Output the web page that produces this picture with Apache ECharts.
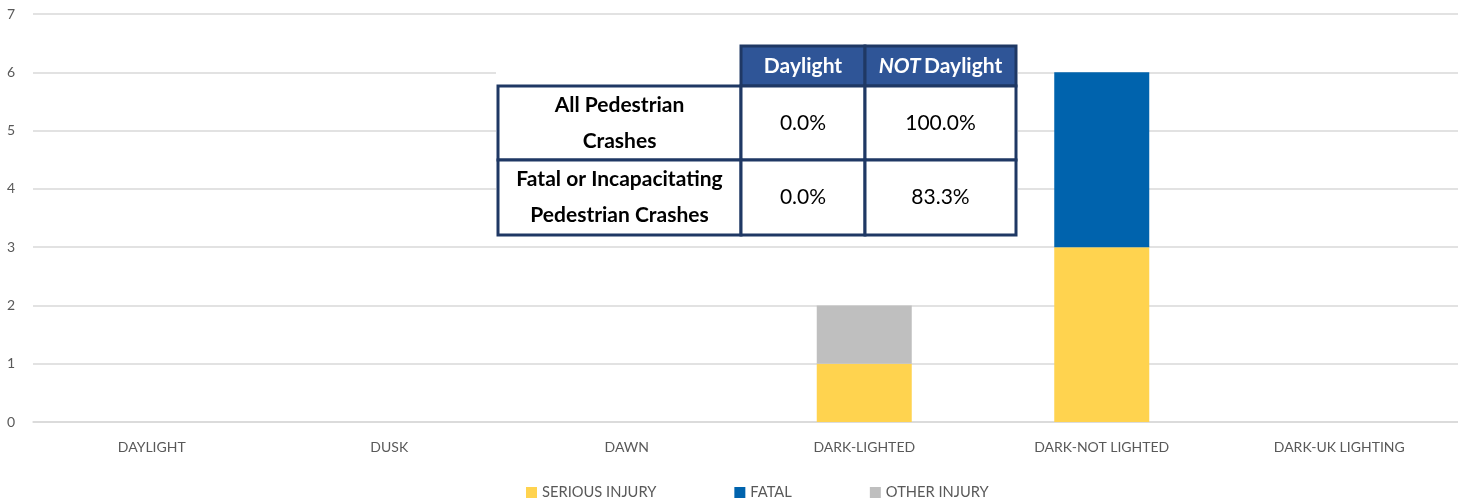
<!DOCTYPE html>
<html><head><meta charset="utf-8">
<script src="https://cdn.jsdelivr.net/npm/echarts@6/dist/echarts.min.js"></script>
<style>html,body{margin:0;padding:0;background:#fff}#c{width:1458px;height:503px}</style>
</head><body><div id="c"></div>
<script>
const categories = ['DAYLIGHT','DUSK','DAWN','DARK-LIGHTED','DARK-NOT LIGHTED','DARK-UK LIGHTING'];
const seriousInjury = [0,0,0,1,3,0];
const fatal = [0,0,0,0,3,0];
const otherInjury = [0,0,0,1,0,0];
const yTicks = [0,1,2,3,4,5,6,7];
const tableColHeaders = ['Daylight','NOT Daylight'];
const tableRowHeaders = [['All Pedestrian','Crashes'],['Fatal or Incapacitating','Pedestrian Crashes']];
const tableValues = [['0.0%','100.0%'],['0.0%','83.3%']];

const chart = echarts.init(document.getElementById('c'));
const navy = '#1F3864', headFill = '#2F5597';
const colX = [498, 741, 865, 1016];
const rowY = [46, 86, 160, 235];
const fontFam = 'Lato,"Open Sans",sans-serif';
const g = [];
g.push({type:'rect', shape:{x:496,y:44,width:522,height:193}, style:{fill:'#fff'}, z:100});
for (let j=0;j<2;j++){
  g.push({type:'rect', shape:{x:colX[j+1],y:rowY[0],width:colX[j+2]-colX[j+1],height:rowY[1]-rowY[0]},
    style:{fill:headFill, stroke:navy, lineWidth:3}, z:101});
}
for (let i=0;i<2;i++){
  for (let j=0;j<3;j++){
    g.push({type:'rect', shape:{x:colX[j],y:rowY[i+1],width:colX[j+1]-colX[j],height:rowY[i+2]-rowY[i+1]},
      style:{fill:'#fff', stroke:navy, lineWidth:3}, z:101});
  }
}
g.push({type:'text', x:(colX[1]+colX[2])/2, y:(rowY[0]+rowY[1])/2, z:102,
  style:{text:tableColHeaders[0], fill:'#fff', font:'bold 21px '+fontFam, align:'center', verticalAlign:'middle'}});
g.push({type:'text', x:(colX[2]+colX[3])/2, y:(rowY[0]+rowY[1])/2, z:102,
  style:{text:'{i|NOT} {n|Daylight}', align:'center', verticalAlign:'middle',
    rich:{i:{fill:'#fff', font:'italic bold 21px '+fontFam}, n:{fill:'#fff', font:'bold 21px '+fontFam}}}});
for (let i=0;i<2;i++){
  g.push({type:'text', x:(colX[0]+colX[1])/2, y:(rowY[i+1]+rowY[i+2])/2, z:102,
    style:{text:tableRowHeaders[i].join('\n'), fill:'#000', font:'bold 21px '+fontFam, lineHeight:36, align:'center', verticalAlign:'middle'}});
  for (let j=0;j<2;j++){
    g.push({type:'text', x:(colX[j+1]+colX[j+2])/2, y:(rowY[i+1]+rowY[i+2])/2, z:102,
      style:{text:tableValues[i][j], fill:'#000', font:'21px '+fontFam, align:'center', verticalAlign:'middle'}});
  }
}

chart.setOption({
  animation:false,
  backgroundColor:'#fff',
  grid:{left:33, right:0, top:14, bottom:81, containLabel:false},
  legend:{bottom:-2, left:521, itemWidth:11, itemHeight:11, itemGap:78, icon:'rect',
    textStyle:{color:'#595959', fontSize:14.7, fontFamily:fontFam},
    data:['SERIOUS INJURY','FATAL','OTHER INJURY']},
  xAxis:{type:'category', data:categories,
    axisLine:{lineStyle:{color:'#d9d9d9', width:1.5}}, axisTick:{show:false},
    axisLabel:{color:'#595959', fontSize:14, margin:18, fontFamily:fontFam}},
  yAxis:{type:'value', min:yTicks[0], max:yTicks[yTicks.length-1], interval:1,
    axisLine:{show:false}, axisTick:{show:false},
    splitLine:{lineStyle:{color:'#d9d9d9', width:1.5}},
    axisLabel:{color:'#595959', fontSize:14, margin:18, fontFamily:fontFam}},
  series:[
    {name:'SERIOUS INJURY', type:'bar', stack:'a', data:seriousInjury, barWidth:'40%', itemStyle:{color:'#FFD34F'}},
    {name:'FATAL', type:'bar', stack:'a', data:fatal, itemStyle:{color:'#0063AD'}},
    {name:'OTHER INJURY', type:'bar', stack:'a', data:otherInjury, itemStyle:{color:'#BFBFBF'}}
  ],
  graphic:g
});
</script></body></html>
